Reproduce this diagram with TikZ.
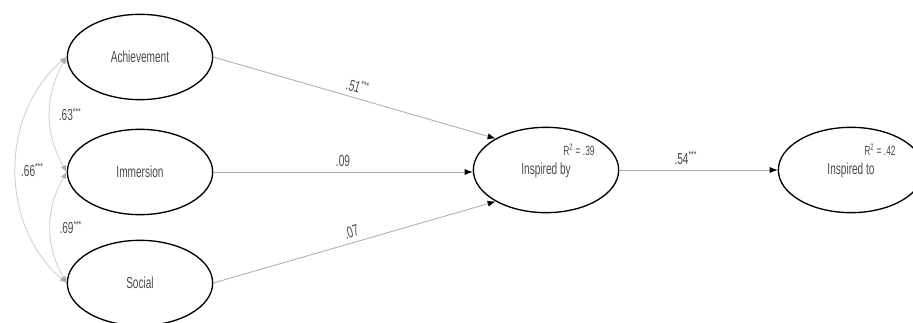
\documentclass[tikz,border=0pt]{standalone}
\usepackage{fontspec}
\setmainfont{Liberation Sans}[FakeStretch=0.63]
\usepackage{tikz}
\usetikzlibrary{positioning, shapes.geometric, arrows.meta}
\definecolor{textgray}{RGB}{75, 75, 75}
\definecolor{pathgray}{RGB}{170, 170, 170}
\definecolor{covgray}{RGB}{205, 205, 205}
\newcommand{\stars}{\textsuperscript{***}}

\begin{document}
\begin{tikzpicture}[x=0.75pt, y=-0.75pt, every node/.style={font=\fontsize{12}{14}\selectfont, text=textgray},
    latent/.style={draw=black, ellipse, line width=1pt, minimum width=109pt, minimum height=64pt, inner sep=0pt},
    path/.style={draw=pathgray, line width=0.6pt, -{Latex[length=6pt, width=4.5pt, black]}},
    cov/.style={draw=covgray, line width=0.6pt, {Latex[length=5pt, width=4pt, pathgray]}-{Latex[length=5pt, width=4pt, pathgray]}},
    coef/.style={inner sep=3.5pt},
    rsq/.style={font=\fontsize{10}{11}\selectfont, inner sep=0pt}]
    \useasboundingbox (0,0) rectangle (913,323);

    \node [latent] (ach) at (140,57) {Achievement};
    \node [latent] (imm) at (140,172) {Immersion};
    \node [latent] (soc) at (140,283) {Social};
    \node [latent] (insby) at (546,170) {Inspired by};
    \node [latent] (insto) at (851,170) {Inspired to};
    \node [rsq] (rby) at (579,150) {R\textsuperscript{2} = .39};
    \node [rsq] (rto) at (880,150) {R\textsuperscript{2} = .42};

    \draw [path] (ach.east) -- node[coef, sloped, above] {.51\stars} (insby.148);
    \draw [path] (imm.east) -- node[coef, above, pos=0.5] {.09} (insby.west |- imm.east);
    \draw [path] (soc.east) -- node[coef, sloped, above] {.07} (insby.212);
    \draw [path] (insby.east) -- node[coef, above, pos=0.42] {.54\stars} (insto.west);

    \draw [cov] (ach.west) to[bend right=30] node[coef, right, xshift=3pt] {.63\stars} (imm.west);
    \draw [cov] (imm.west) to[bend right=30] node[coef, right, xshift=3pt] {.69\stars} (soc.west);
    \draw [cov] (ach.west) to[bend right=50] node[coef, right] {.66\stars} (soc.west);
\end{tikzpicture}
\end{document}
